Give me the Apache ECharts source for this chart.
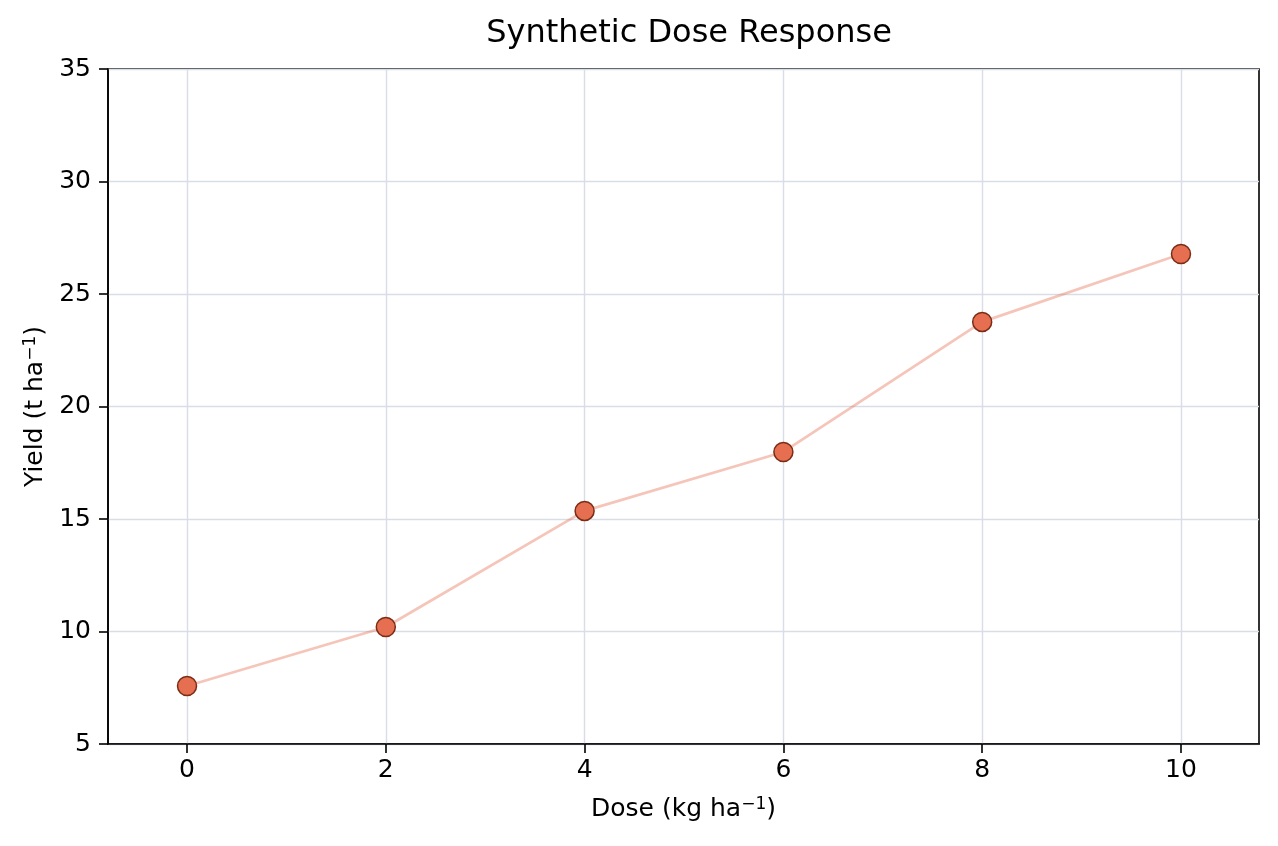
<!DOCTYPE html>
<html>
<head>
<meta charset="utf-8">
<script src="https://cdn.jsdelivr.net/npm/echarts@6/dist/echarts.min.js"></script>
<style>
html, body {margin: 0; padding: 0; background: #fff}
#chart {width: 1278px; height: 846px}
</style>
</head>
<body>
<div id="chart"></div>
<script>
// dose levels and measured yields
var doses = [0, 2, 4, 6, 8, 10];
var yields = [7.58, 10.2, 15.36, 17.98, 23.76, 26.78];
var xTicks = [0, 2, 4, 6, 8, 10];

var font = 'DejaVu Sans';
var chart = echarts.init(document.getElementById('chart'));

var pts = doses.map(function (d, i) { return [d, yields[i]]; });

// axis names with a raised superscript
var nameRich = {
    b: {fontSize: 25, fontFamily: font, color: '#000', verticalAlign: 'bottom', lineHeight: 26, padding: [9, 0, 0, 0]},
    sup: {fontSize: 17, fontFamily: font, color: '#000', verticalAlign: 'top', lineHeight: 18}
};

option = {
    backgroundColor: '#fff',
    animation: false,
    title: {
        text: 'Synthetic Dose Response',
        left: 684,
        textAlign: 'center',
        top: 13,
        textStyle: {fontFamily: font, fontSize: 32, fontWeight: 'normal', color: '#000'}
    },
    grid: {
        left: 108,
        right: 19,
        top: 69,
        bottom: 102,
        show: true,
        borderColor: '#000',
        borderWidth: 1.6
    },
    xAxis: {
        type: 'value',
        min: -0.795,
        max: 10.785,
        name: '{b|Dose (kg ha}{sup|−1}{b|)}',
        nameLocation: 'middle',
        nameGap: 46,
        nameTextStyle: {fontFamily: font, fontSize: 25, color: '#000', rich: nameRich},
        axisLine: {show: true, onZero: false, lineStyle: {color: '#000', width: 1.6}},
        axisTick: {show: true, customValues: xTicks, length: 9, lineStyle: {color: '#000', width: 1.6}},
        axisLabel: {customValues: xTicks, margin: 14, fontFamily: font, fontSize: 25, color: '#000'},
        splitLine: {show: true, lineStyle: {color: '#d9dde8', width: 1.4}}
    },
    yAxis: {
        type: 'value',
        min: 5,
        max: 35,
        interval: 5,
        name: '{b|Yield (t ha}{sup|−1}{b|)}',
        nameLocation: 'middle',
        nameGap: 58,
        nameRotate: 90,
        nameTextStyle: {fontFamily: font, fontSize: 25, color: '#000', rich: nameRich},
        axisLine: {show: true, onZero: false, lineStyle: {color: '#000', width: 1.6}},
        axisTick: {show: true, length: 9, lineStyle: {color: '#000', width: 1.6}},
        axisLabel: {margin: 17, fontFamily: font, fontSize: 25, color: '#000'},
        splitLine: {show: true, lineStyle: {color: '#d9dde8', width: 1.4}}
    },
    series: [
        {
            type: 'line',
            data: pts,
            symbol: 'circle',
            symbolSize: 19,
            lineStyle: {color: 'rgba(231,111,81,0.4)', width: 2.7},
            itemStyle: {color: '#e76f51', borderColor: '#7a2c14', borderWidth: 1.5},
            z: 3
        }
    ]
};
chart.setOption(option, true);
</script>
</body>
</html>
